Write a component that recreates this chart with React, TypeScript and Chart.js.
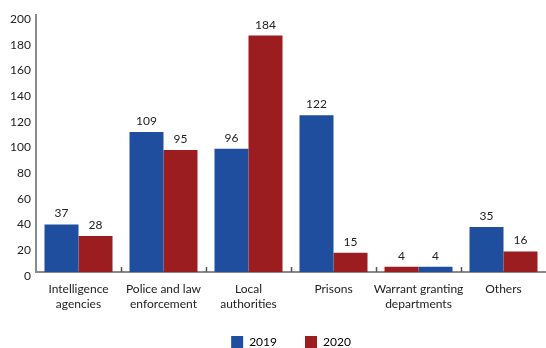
import React, { useEffect, useRef } from "react";
import { Chart, registerables } from "chart.js";

Chart.register(...registerables);

const categories: string[][] = [
  ["Intelligence", "agencies"],
  ["Police and law", "enforcement"],
  ["Local", "authorities"],
  ["Prisons"],
  ["Warrant granting", "departments"],
  ["Others"],
];
const values2019: number[] = [37, 109, 96, 122, 4, 35];
const values2020: number[] = [28, 95, 184, 15, 4, 16];
const yTicks: number[] = [0, 20, 40, 60, 80, 100, 120, 140, 160, 180, 200];

const BLUE = "#1F4E9E";
const RED = "#9B1D1F";
const FONT = "Lato";

// In the reference, the "Warrant granting" group is drawn red-then-blue
const colors2019 = categories.map((_, i) => (i === 4 ? RED : BLUE));
const colors2020 = categories.map((_, i) => (i === 4 ? BLUE : RED));

const valueLabels = {
  id: "valueLabels",
  afterDatasetsDraw(chart: any) {
    const ctx = chart.ctx;
    ctx.save();
    ctx.font = `12px ${FONT}`;
    ctx.fillStyle = "#222";
    ctx.textAlign = "center";
    ctx.textBaseline = "alphabetic";
    chart.data.datasets.forEach((ds: any, di: number) => {
      const meta = chart.getDatasetMeta(di);
      meta.data.forEach((bar: any, i: number) => {
        ctx.fillText(String(ds.data[i]), bar.x, bar.y - 7);
      });
    });
    ctx.restore();
  },
};

const boundaryTicks = {
  id: "boundaryTicks",
  afterDraw(chart: any) {
    const ctx = chart.ctx;
    const x = chart.scales.x;
    const n = chart.data.labels.length;
    const w = (x.right - x.left) / n;
    const bottom = chart.chartArea.bottom;
    ctx.save();
    ctx.strokeStyle = "#555";
    ctx.lineWidth = 1.5;
    for (let i = 1; i < n; i++) {
      const px = Math.round(x.left + i * w) + 0.5;
      ctx.beginPath();
      ctx.moveTo(px, bottom - 5);
      ctx.lineTo(px, bottom);
      ctx.stroke();
    }
    ctx.restore();
  },
};

export default function App() {
  const ref = useRef<HTMLCanvasElement | null>(null);

  useEffect(() => {
    document.body.style.margin = "0";
    if (!ref.current) return;
    const legendPad = 28;
    const chart = new Chart(ref.current, {
      type: "bar",
      data: {
        labels: categories,
        datasets: [
          {
            label: "2019",
            data: values2019,
            backgroundColor: colors2019,
            categoryPercentage: 0.8,
            barPercentage: 1.0,
          },
          {
            label: "2020",
            data: values2020,
            backgroundColor: colors2020,
            categoryPercentage: 0.8,
            barPercentage: 1.0,
          },
        ],
      },
      options: {
        responsive: false,
        animation: false,
        layout: { padding: { top: 15, left: 0, right: 0, bottom: -10 } },
        plugins: {
          tooltip: { enabled: false },
          legend: {
            position: "bottom",
            fullSize: false,
            labels: {
              boxWidth: 12,
              boxHeight: 12,
              padding: legendPad,
              color: "#222",
              font: { family: FONT, size: 12 },
              generateLabels: () => [
                { text: "2019", fillStyle: BLUE, strokeStyle: BLUE, lineWidth: 0, datasetIndex: 0 },
                { text: "2020", fillStyle: RED, strokeStyle: RED, lineWidth: 0, datasetIndex: 1 },
              ],
            },
          },
        },
        scales: {
          x: {
            grid: { display: false, drawTicks: false },
            border: { display: true, color: "#8a8a8a", width: 2 },
            ticks: {
              color: "#222",
              padding: 10,
              maxRotation: 0,
              autoSkip: false,
              font: { family: FONT, size: 12, lineHeight: "15px" },
            },
            afterFit: (s: any) => {
              s.height = 64 - legendPad;
              // let the two-line labels draw below the (shortened) axis box
              s._computeLabelArea = () => null;
            },
          },
          y: {
            min: 0,
            max: 200,
            afterBuildTicks: (s: any) => {
              s.ticks = yTicks.map((v) => ({ value: v }));
            },
            grid: { display: false, drawTicks: false },
            border: { display: true, color: "#8a8a8a", width: 2 },
            ticks: {
              color: "#222",
              padding: 5,
              labelOffset: 4,
              font: { family: FONT, size: 12 },
            },
            afterFit: (s: any) => {
              s.width = 36;
            },
          },
        },
      },
      plugins: [valueLabels, boundaryTicks],
    } as any);
    return () => chart.destroy();
  }, []);

  return (
    <div style={{ width: 546, height: 348 }}>
      <canvas ref={ref} width={546} height={348} />
    </div>
  );
}
